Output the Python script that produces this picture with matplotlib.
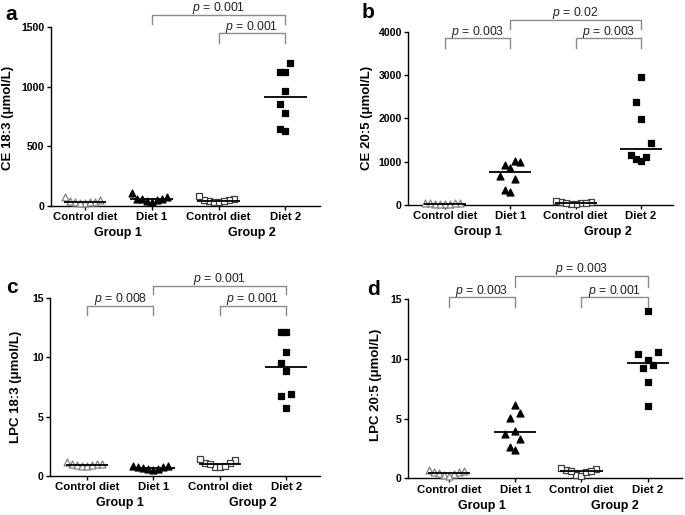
import numpy as np
import matplotlib
matplotlib.use('Agg')
import matplotlib.pyplot as plt
import matplotlib.transforms as mtrans

plt.rcParams['font.family'] = ['Liberation Sans', 'DejaVu Sans']
plt.rcParams['mathtext.fontset'] = 'custom'
plt.rcParams['mathtext.it'] = 'Liberation Sans:italic'
plt.rcParams['mathtext.rm'] = 'Liberation Sans'

# ---------------- data ----------------
categories = ['Control diet', 'Diet 1', 'Control diet', 'Diet 2']
groups = ['Group 1', 'Group 2']
panel_letters = ['a', 'b', 'c', 'd']
ylabels = ['CE 18:3 (μmol/L)', 'CE 20:5 (μmol/L)',
           'LPC 18:3 (μmol/L)', 'LPC 20:5 (μmol/L)']
yticks_a = [0, 500, 1000, 1500]
yticks_b = [0, 1000, 2000, 3000, 4000]
yticks_c = [0, 5, 10, 15]
yticks_d = [0, 5, 10, 15]

# panel a: CE 18:3
ctrl1_a = [38, 22, 30, 24, 35, 50, 72, 28]
diet1_a = [75, 45, 55, 30, 60, 40, 105, 58]
ctrl2_a = [55, 40, 35, 50, 30, 45, 85, 40]
diet2_a = [1127, 1127, 1197, 964, 858, 782, 647, 625]
# panel b: CE 20:5
ctrl1_b = [30, 15, 40, 20, 50, 25, 45, 35]
diet1_b = [1000, 850, 920, 1020, 680, 600, 300, 350]
ctrl2_b = [80, 40, 20, 55, 30, 60, 100, 45]
diet2_b = [2946, 2377, 1977, 1431, 1115, 1023, 1069, 1146]
# panel c: LPC 18:3
ctrl1_c = [1.0, 0.9, 0.85, 0.95, 0.8, 1.0, 1.2, 0.9]
diet1_c = [0.8, 0.55, 0.65, 0.5, 0.75, 0.7, 0.85, 0.6]
ctrl2_c = [1.3, 0.75, 1.1, 0.7, 1.05, 0.8, 1.4, 0.95]
diet2_c = [12.13, 12.13, 10.49, 9.50, 8.83, 6.94, 6.71, 5.72]
# panel d: LPC 20:5
ctrl1_d = [0.5, 0.3, 0.6, 0.4, 0.7, 0.2, 0.55, 0.45]
diet1_d = [6.17, 5.47, 5.03, 3.99, 3.71, 3.30, 2.60, 2.35]
ctrl2_d = [0.7, 0.3, 0.85, 0.2, 0.6, 0.75, 0.5, 0.65]
diet2_d = [14.02, 10.56, 10.42, 9.89, 9.47, 9.22, 8.04, 6.06]

# p-value comparisons: (from category, to category, p)
pvals_a = [(1, 3, '0.001'), (2, 3, '0.001')]
pvals_b = [(0, 1, '0.003'), (1, 3, '0.02'), (2, 3, '0.003')]
pvals_c = [(0, 1, '0.008'), (1, 3, '0.001'), (2, 3, '0.001')]
pvals_d = [(0, 1, '0.003'), (1, 3, '0.003'), (2, 3, '0.001')]

panels = [
    ([ctrl1_a, diet1_a, ctrl2_a, diet2_a], yticks_a, pvals_a),
    ([ctrl1_b, diet1_b, ctrl2_b, diet2_b], yticks_b, pvals_b),
    ([ctrl1_c, diet1_c, ctrl2_c, diet2_c], yticks_c, pvals_c),
    ([ctrl1_d, diet1_d, ctrl2_d, diet2_d], yticks_d, pvals_d),
]

# ---------------- layout ----------------
W, H = 685, 515
fig = plt.figure(figsize=(W / 100, H / 100), dpi=100)

# axes boxes in pixels: left, right, bottom(y from top), top(y from top)
boxes = [(51, 320, 205.7, 27.3), (408.3, 673, 205, 31.7),
         (50, 320, 475.7, 298.3), (408.3, 681.7, 478.3, 299.3)]
xlims = [(-0.51, 3.52), (-0.56, 3.49), (-0.56, 3.51), (-0.61, 3.51)]
# bracket levels in axes fraction: (top line, top drop, low line, low drop)
blevels = [(1.069, 1.017, 0.967, 0.911), (1.067, 1.013, 0.962, 0.907),
           (1.071, 1.023, 0.959, 0.906), (1.132, 1.071, 1.011, 0.959)]
ylabel_off = [37, 35, 28, 26]
ylabel_y = [0.49, 0.50, 0.50, 0.52]
letter_pos = [(5, 20), (362, 18), (6, 293), (367, 295)]

markers = ['^', '^', 's', 's']
faces = ['white', 'black', 'white', 'black']
edges = ['#808080', 'black', '#404040', 'black']
sizes = [25, 25, 22, 22]


def swarm(vals, center, ppx, ppy, dx_px=5.0, h_px=18.0):
    vals = np.asarray(vals, float)
    order = np.argsort(vals)
    placed = []
    out = np.zeros(len(vals))
    for i in order:
        y = vals[i] * ppy
        for k in [0, -1, 1, -2, 2, -3, 3, -4, 4, -5, 5, -6, 6]:
            if all(not (c == k and abs(y - yy) < h_px) for c, yy in placed):
                break
        placed.append((k, y))
        out[i] = center + k * dx_px / ppx
    return out


for pi, (series, yticks, pvals) in enumerate(panels):
    l, r, b, t = boxes[pi]
    ax = fig.add_axes([l / W, (H - b) / H, (r - l) / W, (b - t) / H])
    ax.set_xlim(*xlims[pi])
    ax.set_ylim(yticks[0], yticks[-1])
    ppx = (r - l) / (xlims[pi][1] - xlims[pi][0])
    ppy = (b - t) / (yticks[-1] - yticks[0])

    for ci, vals in enumerate(series):
        xs = swarm(vals, ci, ppx, ppy)
        ax.scatter(xs, vals, marker=markers[ci], s=sizes[ci], facecolor=faces[ci],
                   edgecolor=edges[ci], linewidths=0.9, zorder=3, clip_on=False)
        med = np.median(vals)
        ax.plot([ci - 0.32, ci + 0.32], [med, med], color='black', lw=1.3,
                zorder=4, clip_on=False, solid_capstyle='butt')

    for side in ['top', 'right']:
        ax.spines[side].set_visible(False)
    for side in ['left', 'bottom']:
        ax.spines[side].set_linewidth(1.0)
    ax.set_xticks(range(4))
    ax.set_xticklabels(categories, fontsize=8.2, fontweight='bold')
    ax.set_yticks(yticks)
    ax.set_yticklabels([str(v) for v in yticks], fontsize=7.6, fontweight='bold')
    ax.tick_params(axis='both', direction='out', length=2.6, width=1.0, pad=2)
    ax.set_ylabel(ylabels[pi], fontsize=9.5, fontweight='bold')
    ax.yaxis.set_label_coords(-ylabel_off[pi] / (r - l), ylabel_y[pi])

    tr = mtrans.blended_transform_factory(ax.transData, ax.transAxes)
    for gi, g in enumerate(groups):
        ax.annotate(g, xy=(2 * gi + 0.5, 0), xycoords=tr, xytext=(0, -19.8),
                    textcoords='offset points', ha='center', va='center',
                    fontsize=9, fontweight='bold')

    tl, td, ll, ld = blevels[pi]
    for (x0, x1, p) in pvals:
        if (x0, x1) == (1, 3):
            yl, yd = tl, td
        else:
            yl, yd = ll, ld
        ax.plot([x0, x0, x1, x1], [yd, yl, yl, yd], transform=tr, color='#8a8a8a',
                lw=1.0, clip_on=False)
        ax.annotate('$p$ = ' + p, xy=((x0 + x1) / 2, yl), xycoords=tr,
                    xytext=(0, 2.6), textcoords='offset points', ha='center',
                    va='baseline', fontsize=8.8, color='#222222')

    lx, ly = letter_pos[pi]
    fig.text(lx / W, 1 - ly / H, panel_letters[pi], fontsize=15,
             fontweight='bold', ha='left', va='baseline')

fig.savefig('out.png', dpi=100)
